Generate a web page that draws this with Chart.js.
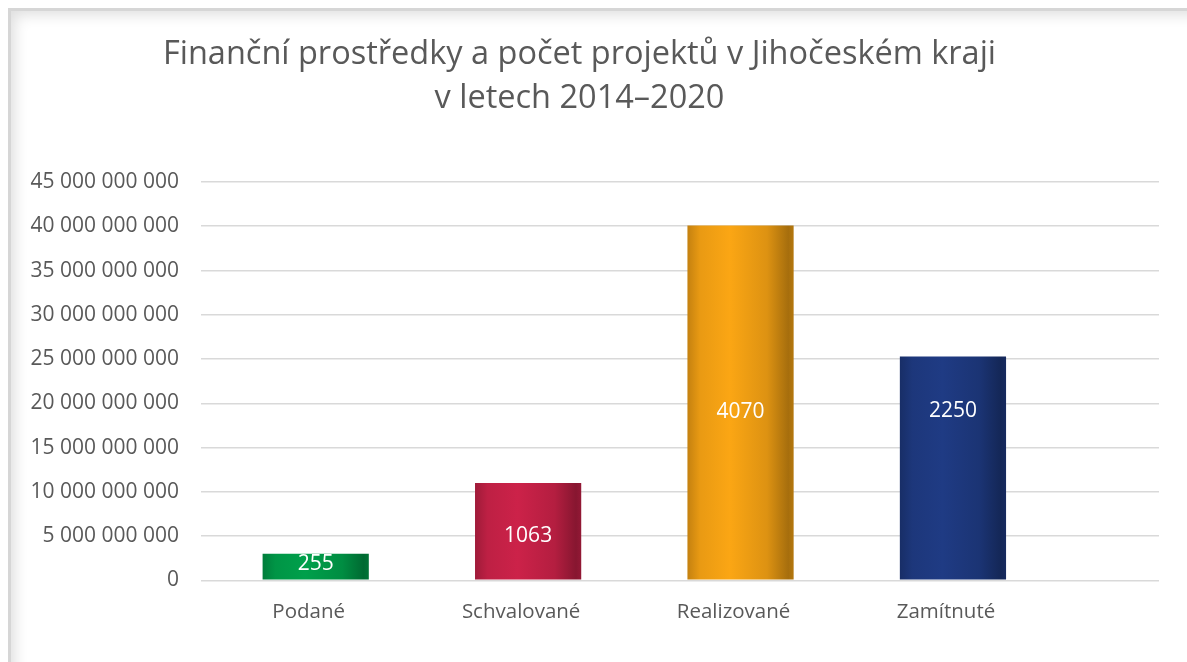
<!DOCTYPE html>
<html>
<head>
<meta charset="utf-8">
<script src="https://cdn.jsdelivr.net/npm/chart.js@4"></script>
<style>
  html, body { margin: 0; padding: 0; background: #fff; }
  #wrap { position: relative; width: 1187px; height: 662px; overflow: hidden; }
  #frame {
    position: absolute; left: 8px; top: 8px; width: 1200px; height: 680px;
    border-left: 3px solid #d6d6d6; border-top: 3px solid #d6d6d6;
    box-shadow: inset 10px 10px 14px -6px rgba(0,0,0,0.13);
    pointer-events: none;
  }
</style>
</head>
<body>
<div id="wrap">
  <canvas id="chart" width="1187" height="662"></canvas>
  <div id="frame"></div>
</div>
<script>
const categories = ['Podané', 'Schvalované', 'Realizované', 'Zamítnuté'];
const amounts = [3.0e9, 11.0e9, 40.1e9, 25.3e9];
const projectCounts = [255, 1063, 4070, 2250];
const countLabelY = [1.8e9, 5.0e9, 19.0e9, 19.1e9];   // where the count text sits
const barColors = ['#00a04b', '#cc2249', '#fba614', '#1f3b84'];
const yMin = 0, yMax = 45e9, yStep = 5e9;

const grey = '#595959';
const fontFamily = '"Open Sans", sans-serif';

function fmt(v) {
  return String(Math.round(v)).replace(/\B(?=(\d{3})+(?!\d))/g, ' ');
}

function shade(hex, f) {
  const n = parseInt(hex.slice(1), 16);
  const r = Math.round(((n >> 16) & 255) * f);
  const g = Math.round(((n >> 8) & 255) * f);
  const b = Math.round((n & 255) * f);
  return `rgb(${Math.min(r,255)},${Math.min(g,255)},${Math.min(b,255)})`;
}

// cylinder-ish shading like the Excel bars
function barGradient(ctx) {
  const chart = ctx.chart;
  const xs = chart.scales.x;
  const base = barColors[ctx.dataIndex];
  if (!xs) return base;
  const cx = xs.getPixelForValue(ctx.dataIndex);
  const w = (xs.getPixelForValue(1) - xs.getPixelForValue(0)) * 0.5;
  if (!isFinite(cx) || !isFinite(w) || w <= 0) return base;
  const g = chart.ctx.createLinearGradient(cx - w / 2, 0, cx + w / 2, 0);
  g.addColorStop(0, shade(base, 0.78));
  g.addColorStop(0.12, shade(base, 0.93));
  g.addColorStop(0.4, base);
  g.addColorStop(0.75, shade(base, 0.88));
  g.addColorStop(0.95, shade(base, 0.66));
  g.addColorStop(1, shade(base, 0.72));
  return g;
}

const countLabels = {
  id: 'countLabels',
  afterDatasetsDraw(chart) {
    const c = chart.ctx;
    const xs = chart.scales.x, ys = chart.scales.y;
    c.save();
    c.fillStyle = '#ffffff';
    c.font = '21px ' + fontFamily;
    c.textAlign = 'center';
    c.textBaseline = 'middle';
    projectCounts.forEach((n, i) => {
      c.fillText(String(n), xs.getPixelForValue(i), ys.getPixelForValue(countLabelY[i]));
    });
    c.restore();
  }
};

new Chart(document.getElementById('chart'), {
  type: 'bar',
  data: {
    datasets: [{
      data: amounts.map((v, i) => ({ x: i, y: v })),
      backgroundColor: barGradient,
      borderWidth: 0,
      barPercentage: 0.5,
      categoryPercentage: 1
    }]
  },
  options: {
    responsive: false,
    animation: false,
    layout: { padding: { left: 0, right: 28, top: 0, bottom: 27 } },
    plugins: {
      legend: { display: false },
      tooltip: { enabled: false },
      title: {
        display: true,
        text: ['Finanční prostředky a počet projektů v Jihočeském kraji', 'v letech 2014–2020'],
        color: grey,
        font: { family: fontFamily, size: 32.5, weight: 'normal', lineHeight: 1.354 },
        padding: { top: 33, bottom: 61 }
      }
    },
    scales: {
      x: {
        type: 'linear',
        offset: false,
        bounds: 'ticks',
        min: -0.54,
        max: 3.97,
        grid: { display: false },
        border: { display: false },
        afterBuildTicks: scale => {
          scale.ticks = categories.map((c, i) => ({ value: i }));
        },
        ticks: {
          color: grey,
          padding: 11,
          labelOffset: -7,
          font: { family: fontFamily, size: 20.5 },
          callback: v => categories[v] ?? ''
        }
      },
      y: {
        min: yMin,
        max: yMax,
        afterFit: scale => { scale.width = 201; },
        grid: { color: '#d9d9d9', lineWidth: 1.6, drawTicks: false },
        border: { display: false },
        ticks: {
          stepSize: yStep,
          color: grey,
          padding: 22,
          font: { family: fontFamily, size: 21 },
          callback: v => fmt(v)
        }
      }
    }
  },
  plugins: [countLabels]
});
</script>
</body>
</html>
